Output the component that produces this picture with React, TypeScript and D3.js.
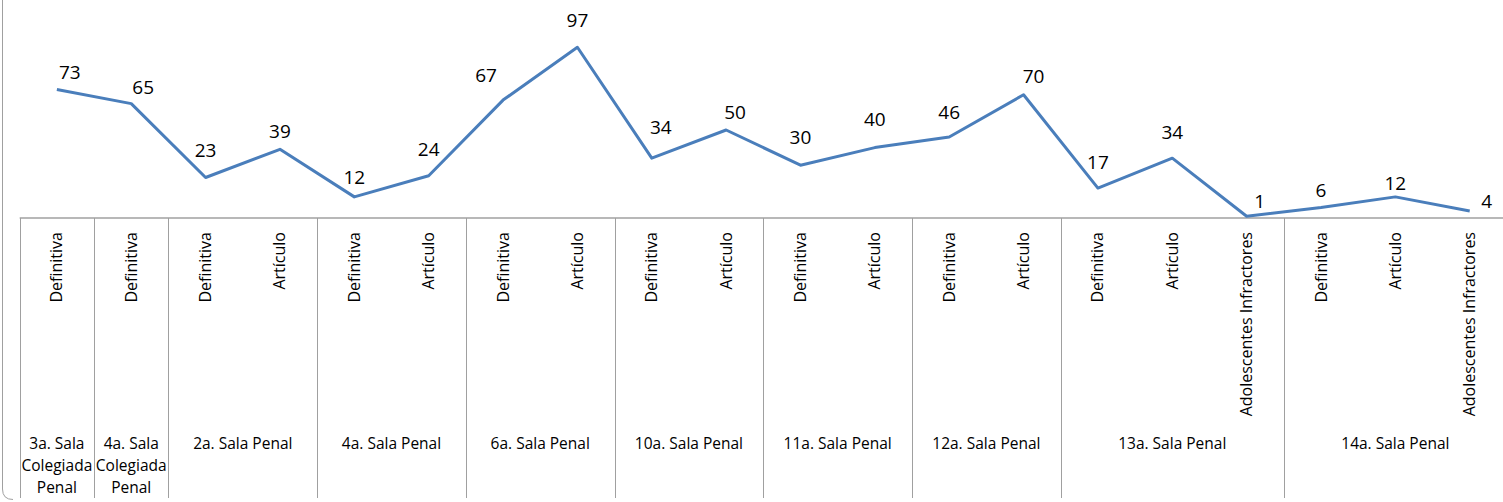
import React from "react";
import * as d3 from "d3";

const groups = [
  "3a. Sala\nColegiada\nPenal",
  "4a. Sala\nColegiada\nPenal",
  "2a. Sala Penal",
  "4a. Sala Penal",
  "6a. Sala Penal",
  "10a. Sala Penal",
  "11a. Sala Penal",
  "12a. Sala Penal",
  "13a. Sala Penal",
  "14a. Sala Penal",
];
const groupSizes = [1, 1, 2, 2, 2, 2, 2, 2, 3, 3];
const categories = [
  "Definitiva",
  "Definitiva",
  "Definitiva", "Artículo",
  "Definitiva", "Artículo",
  "Definitiva", "Artículo",
  "Definitiva", "Artículo",
  "Definitiva", "Artículo",
  "Definitiva", "Artículo",
  "Definitiva", "Artículo", "Adolescentes Infractores",
  "Definitiva", "Artículo", "Adolescentes Infractores",
];
const values = [73, 65, 23, 39, 12, 24, 67, 97, 34, 50, 30, 40, 46, 70, 17, 34, 1, 6, 12, 4];
// label nudges (dx, dy) relative to point
const labelNudgeX = [13, 12, 0, 0, 0, 0, -17, 0, 9, 9, 0, 0, 0, 10, 0, 0, 13, 0, 0, 17];
const labelNudgeY = [-18, -17, -28, -18, -20, -27, -25, -27, -31, -18, -28, -29, -25, -19, -26, -26, -15, -17, -14, -10];

const W = 1503;
const H = 502;
const FONT = "'Open Sans', 'Noto Sans', sans-serif";

export default function App() {
  const idx = values.map((_, i) => i);
  const x = d3.scaleBand<number>().domain(idx).range([19.7, 1506.9]).padding(0);
  const y = d3.scaleLinear().domain([0, 100]).range([218, 42]);
  const cx = (i: number) => (x(i) as number) + x.bandwidth() / 2;
  const line = d3
    .line<number>()
    .x((_, i) => cx(i))
    .y((d) => y(d));

  const boundaries: number[] = [0];
  let acc = 0;
  groupSizes.forEach((s) => {
    acc += s;
    boundaries.push(acc);
  });
  const bx = (k: number) => (k < values.length ? (x(k) as number) : x.range()[1]);
  const axisY = y(0);
  const gridColor = "#a0a0a0";

  return (
    <svg
      width={W}
      height={H}
      style={{ position: "absolute", left: 0, top: 0, background: "#fff" }}
      fontFamily={FONT}
    >
      <path
        d={`M2.5,-5 V489 Q2.5,499.5 13,499.5`}
        fill="none"
        stroke="#a0a0a0"
        strokeWidth={1}
      />
      <line x1={x.range()[0]} x2={W + 10} y1={axisY} y2={axisY} stroke={gridColor} strokeWidth={1.6} />
      {boundaries.map((k, i) => (
        <line
          key={"b" + i}
          x1={Math.round(bx(k)) + 0.5}
          x2={Math.round(bx(k)) + 0.5}
          y1={axisY}
          y2={498}
          stroke={gridColor}
          strokeWidth={1}
        />
      ))}
      {categories.map((c, i) => (
        <text
          key={"c" + i}
          transform={`translate(${cx(i) + 5.5},232) rotate(-90)`}
          textAnchor="end"
          fontSize={16}
          fill="#000"
        >
          {c}
        </text>
      ))}
      {groups.map((g, gi) => {
        const gx = (bx(boundaries[gi]) + bx(boundaries[gi + 1])) / 2;
        return (
          <text key={"g" + gi} textAnchor="middle" fontSize={15.5} fill="#000">
            {g.split("\n").map((ln, li) => (
              <tspan key={li} x={gx} y={449 + li * 22}>
                {ln}
              </tspan>
            ))}
          </text>
        );
      })}
      <path d={line(values) || ""} fill="none" stroke="#4a7ebb" strokeWidth={3} strokeLinejoin="round" />
      {values.map((v, i) => (
        <text
          key={"v" + i}
          x={cx(i) + labelNudgeX[i]}
          y={y(v) + labelNudgeY[i] + 7}
          textAnchor="middle"
          fontSize={19}
          fill="#000"
        >
          {v}
        </text>
      ))}
    </svg>
  );
}
